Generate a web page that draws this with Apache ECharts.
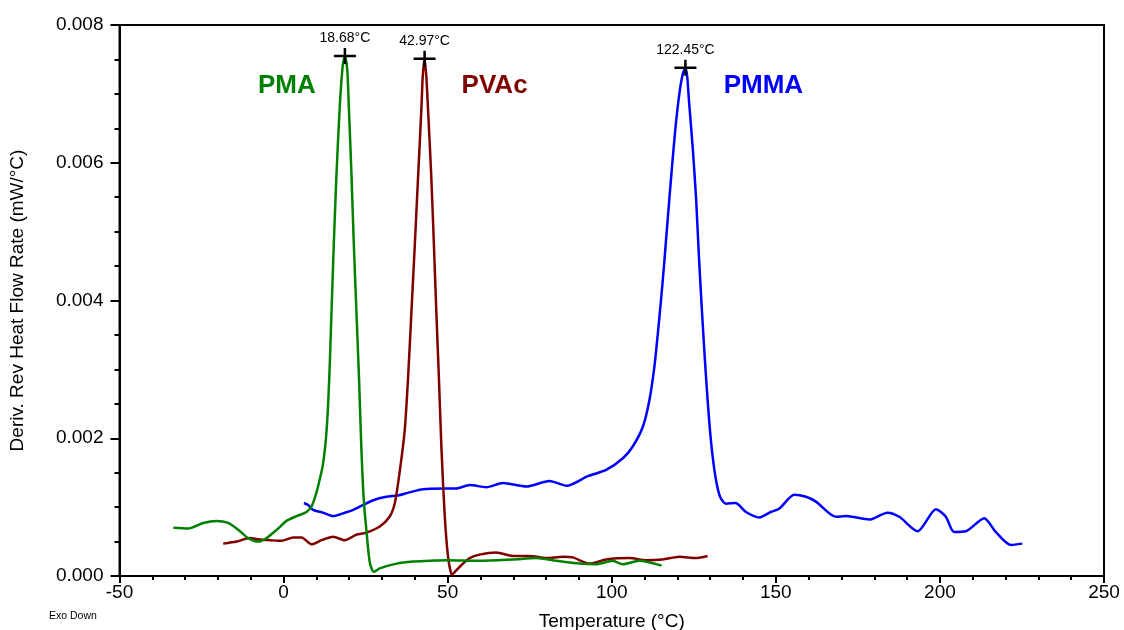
<!DOCTYPE html>
<html><head><meta charset="utf-8">
<script src="https://cdn.jsdelivr.net/npm/echarts@6/dist/echarts.min.js"></script>
<style>html,body{margin:0;padding:0;background:#fff}#c{width:1124px;height:630px}</style>
</head><body><div id="c"></div>
<script>
// PMA (green)
const pmaX = [-33.6,-29.1,-24.5,-20.4,-16.9,-13.8,-10.8,-7.7,-5.2,-2.1,0.9,4.0,7.0,8.5,9.5,10.5,12.0,13.1,13.9,14.6,15.3,16.1,17.1,18.0,18.68,19.4,19.9,20.7,21.4,22.2,23.0,23.7,24.4,25.3,26.3,27.5,29.3,34.4,39.4,44.5,49.6,59.7,69.9,77.0,83.1,90.2,95.3,100.3,103.4,108.4,115.2];
const pmaY = [0.00070,0.00069,0.00077,0.00080,0.00077,0.00067,0.00055,0.00050,0.00055,0.00067,0.00080,0.00087,0.00093,0.00101,0.00113,0.00130,0.00162,0.00211,0.00285,0.00383,0.00482,0.00581,0.00680,0.00740,0.00755,0.00735,0.00679,0.00581,0.00482,0.00383,0.00285,0.00186,0.00113,0.00063,0.00019,0.00006,0.00011,0.00018,0.00021,0.00022,0.00023,0.00022,0.00024,0.00026,0.00022,0.00018,0.00017,0.00022,0.00017,0.00022,0.00015];
// PVAc (dark red)
const pvacX = [-18.4,-14.3,-10.3,-7.2,-4.2,-0.6,2.9,5.5,8.5,11.6,15.1,18.6,22.2,25.2,29.3,32.3,33.9,35.4,36.9,37.9,38.95,40.0,41.0,42.0,42.4,42.97,43.5,44.0,45.0,45.8,46.55,47.35,48.1,49.1,50.1,51.3,52.0,54.2,56.7,59.7,64.8,69.9,75.0,80.0,85.1,88.1,93.2,98.3,105.4,110.5,115.5,120.6,125.7,129.2];
const pvacY = [0.00047,0.00050,0.00055,0.00053,0.00052,0.00051,0.00056,0.00056,0.00046,0.00052,0.00057,0.00052,0.00060,0.00063,0.00072,0.00086,0.00106,0.00152,0.00211,0.00285,0.00383,0.00482,0.00581,0.00679,0.00725,0.00751,0.00725,0.00679,0.00581,0.00482,0.00383,0.00285,0.00186,0.00088,0.00029,0.00002,0.00005,0.00016,0.00026,0.00031,0.00034,0.00029,0.00029,0.00026,0.00028,0.00027,0.00018,0.00024,0.00026,0.00023,0.00024,0.00028,0.00026,0.00029];
// PMMA (blue)
const pmmaX = [6.2,7.5,9.0,12.0,15.1,18.1,21.2,24.2,27.3,31.3,34.9,38.0,42.5,48.6,52.6,56.7,61.8,66.8,74.0,81.0,86.3,92.7,98.3,103.4,106.4,109.5,111.5,113.0,114.0,115.0,116.0,117.0,118.2,119.4,120.6,121.6,122.45,123.0,123.5,124.7,125.7,126.5,127.3,128.2,129.2,130.3,131.6,133.0,134.8,137.7,140.9,145.0,148.5,151.1,155.6,159.2,162.2,168.3,171.4,178.5,184.0,187.6,193.2,198.8,201.8,204.3,207.9,213.5,217.0,221.6,225.1];
const pmmaY = [0.00106,0.00103,0.00096,0.00092,0.00087,0.00091,0.00096,0.00103,0.00110,0.00115,0.00117,0.00121,0.00126,0.00127,0.00127,0.00132,0.00129,0.00135,0.00130,0.00138,0.00131,0.00145,0.00154,0.00171,0.00188,0.00217,0.00256,0.00304,0.00350,0.00400,0.00455,0.00515,0.00585,0.00650,0.00700,0.00728,0.00738,0.00725,0.00692,0.00620,0.00548,0.00470,0.00400,0.00328,0.00256,0.00193,0.00144,0.00115,0.00105,0.00106,0.00093,0.00085,0.00093,0.00098,0.00118,0.00115,0.00108,0.00086,0.00087,0.00082,0.00092,0.00086,0.00065,0.00097,0.00086,0.00064,0.00065,0.00084,0.00064,0.00045,0.00047];

const peakX = [18.68, 42.97, 122.45];
const peakY = [0.00755, 0.00751, 0.00738];
const peakLabels = ['18.68°C', '42.97°C', '122.45°C'];

const seriesNames = ['PMA', 'PVAc', 'PMMA'];
const nameX = [1.0, 64.3, 146.2];
const nameY = [0.00712, 0.00712, 0.00712];
const colors = ['#008000', '#800000', '#0000ff'];

const xTicks = [-50, 0, 50, 100, 150, 200, 250];
const yTicks = [0.000, 0.002, 0.004, 0.006, 0.008];

const zip = (xs, ys) => xs.map((x, i) => [x, ys[i]]);
const curves = [zip(pmaX, pmaY), zip(pvacX, pvacY), zip(pmmaX, pmmaY)];

const font = 'Arial, "Liberation Sans", sans-serif';
const crossPath = 'path://M0,6.75H22V9.25H0Z M9.75,0H12.25V16H9.75Z';

const series = curves.map((d, i) => ({
  name: seriesNames[i], type: 'line', data: d, showSymbol: false, smooth: 0.25,
  lineStyle: { color: colors[i], width: 2.5 }, itemStyle: { color: colors[i] },
  z: 5 - i,
  markPoint: {
    symbol: 'rect', symbolSize: 0, silent: true,
    data: [{ coord: [nameX[i], nameY[i]], value: seriesNames[i] }],
    label: { show: true, position: 'inside', formatter: seriesNames[i], color: colors[i],
      fontSize: 26, fontWeight: 'bold', fontFamily: font }
  }
}));
series.push({
  type: 'scatter', data: zip(peakX, peakY), symbol: crossPath, symbolSize: [22, 16],
  itemStyle: { color: '#000', opacity: 1 }, z: 10, silent: true,
  label: { show: true, position: 'top', distance: 3, color: '#000', fontSize: 14, fontFamily: font,
    formatter: p => peakLabels[p.dataIndex] }
});

const chart = echarts.init(document.getElementById('c'), null, { renderer: 'canvas' });
chart.setOption({
  animation: false,
  backgroundColor: '#fff',
  grid: { left: 119.5, right: 20, top: 25, bottom: 54, outerBoundsMode: 'none', containLabel: false,
    show: true, borderColor: '#000', borderWidth: 2, backgroundColor: 'transparent' },
  xAxis: {
    type: 'value', min: xTicks[0], max: xTicks[xTicks.length - 1], interval: 50,
    name: 'Temperature (°C)', nameLocation: 'middle', nameGap: 36,
    nameTextStyle: { fontSize: 19, color: '#000', fontFamily: font },
    axisLine: { show: true, onZero: false, lineStyle: { color: '#000', width: 2 } },
    axisTick: { show: true, length: 7, lineStyle: { color: '#000', width: 2 } },
    minorTick: { show: true, splitNumber: 5, length: 4, lineStyle: { color: '#000', width: 2 } },
    axisLabel: { fontSize: 19, color: '#000', fontFamily: font, margin: 7 },
    splitLine: { show: false }
  },
  yAxis: {
    type: 'value', min: yTicks[0], max: yTicks[yTicks.length - 1], interval: 0.002,
    name: 'Deriv. Rev Heat Flow Rate (mW/°C)', nameLocation: 'middle', nameGap: 92,
    nameTextStyle: { fontSize: 19, color: '#000', fontFamily: font },
    axisLine: { show: true, onZero: false, lineStyle: { color: '#000', width: 2 } },
    axisTick: { show: true, length: 9, lineStyle: { color: '#000', width: 2 } },
    minorTick: { show: true, splitNumber: 4, length: 5, lineStyle: { color: '#000', width: 2 } },
    axisLabel: { fontSize: 19, color: '#000', fontFamily: font, margin: 16, formatter: v => v.toFixed(3) },
    splitLine: { show: false }
  },
  graphic: [{ type: 'text', left: 49, top: 611, style: { text: 'Exo Down', fontSize: 10.5, fill: '#000', fontFamily: font } }],
  series
});
</script></body></html>
